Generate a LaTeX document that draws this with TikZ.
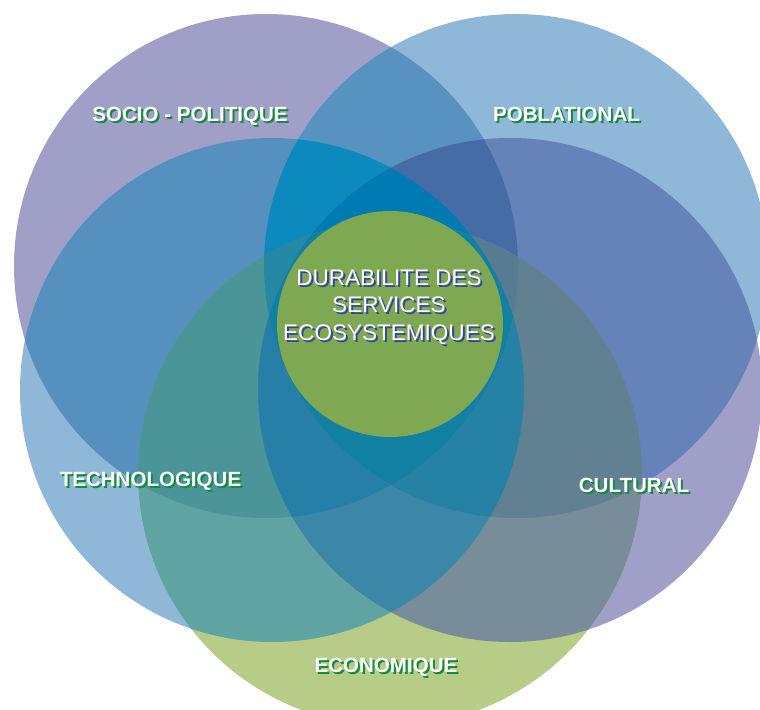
\documentclass[tikz,border=0pt]{standalone}
\usepackage{fontspec}
\setmainfont{Liberation Sans}
\definecolor{cS}{HTML}{A09FC8}
\definecolor{cP}{HTML}{8FB8D8}
\definecolor{cT}{HTML}{8FB8D8}
\definecolor{cC}{HTML}{A09FC8}
\definecolor{cE}{HTML}{B7CC86}
\definecolor{cSP}{HTML}{5792C0}
\definecolor{cST}{HTML}{5690BF}
\definecolor{cPC}{HTML}{6583B8}
\definecolor{cTE}{HTML}{5FA3A3}
\definecolor{cCE}{HTML}{788C99}
\definecolor{cSPT}{HTML}{0C8ABD}
\definecolor{cSPC}{HTML}{466CA8}
\definecolor{cSTE}{HTML}{4B9599}
\definecolor{cPCE}{HTML}{618092}
\definecolor{cTCE}{HTML}{3A87A8}
\definecolor{cSPTC}{HTML}{007AB2}
\definecolor{cSTCE}{HTML}{267FA6}
\definecolor{cPTCE}{HTML}{2682A5}
\definecolor{cSPTE}{HTML}{2589A5}
\definecolor{cSPCE}{HTML}{587B94}
\definecolor{cAll}{HTML}{1180A3}
\definecolor{cG}{HTML}{7EA852}
\definecolor{shG}{HTML}{148C3C}
\definecolor{shB}{HTML}{3246A0}
\begin{document}
\begin{tikzpicture}[x=0.75pt,y=-0.75pt,
  lbl/.style={inner sep=0pt,anchor=base,text=white,font=\bfseries\fontsize{15.4pt}{18pt}\selectfont},
  lblsh/.style={lbl,text=shG},
  ctr/.style={inner sep=0pt,anchor=base,text=white,font=\fontsize{16.9pt}{20pt}\selectfont},
  ctrsh/.style={ctr,text=shB}]
\def\R{189pt}
\useasboundingbox (0,0) rectangle (760,710);
\clip (0,0) rectangle (760,710);
\coordinate (oS) at (266,266);
\coordinate (oP) at (516,266);
\coordinate (oT) at (272,390);
\coordinate (oC) at (510,390);
\coordinate (oE) at (390,474);
\coordinate (oG) at (390,324);
% single circles
\fill[cS] (oS) circle[radius=\R];
\fill[cP] (oP) circle[radius=\R];
\fill[cT] (oT) circle[radius=\R];
\fill[cC] (oC) circle[radius=\R];
\fill[cE] (oE) circle[radius=\R];
% pairs
\begin{scope}\clip (oS) circle[radius=\R]; \fill[cSP] (oP) circle[radius=\R];\end{scope}
\begin{scope}\clip (oS) circle[radius=\R]; \fill[cST] (oT) circle[radius=\R];\end{scope}
\begin{scope}\clip (oP) circle[radius=\R]; \fill[cPC] (oC) circle[radius=\R];\end{scope}
\begin{scope}\clip (oT) circle[radius=\R]; \fill[cTE] (oE) circle[radius=\R];\end{scope}
\begin{scope}\clip (oC) circle[radius=\R]; \fill[cCE] (oE) circle[radius=\R];\end{scope}
% triples
\begin{scope}\clip (oS) circle[radius=\R]; \clip (oP) circle[radius=\R]; \fill[cSPT] (oT) circle[radius=\R];\end{scope}
\begin{scope}\clip (oS) circle[radius=\R]; \clip (oP) circle[radius=\R]; \fill[cSPC] (oC) circle[radius=\R];\end{scope}
\begin{scope}\clip (oS) circle[radius=\R]; \clip (oT) circle[radius=\R]; \fill[cSTE] (oE) circle[radius=\R];\end{scope}
\begin{scope}\clip (oP) circle[radius=\R]; \clip (oC) circle[radius=\R]; \fill[cPCE] (oE) circle[radius=\R];\end{scope}
\begin{scope}\clip (oT) circle[radius=\R]; \clip (oC) circle[radius=\R]; \fill[cTCE] (oE) circle[radius=\R];\end{scope}
% quadruples
\begin{scope}\clip (oS) circle[radius=\R]; \clip (oP) circle[radius=\R]; \clip (oT) circle[radius=\R]; \fill[cSPTC] (oC) circle[radius=\R];\end{scope}
\begin{scope}\clip (oS) circle[radius=\R]; \clip (oT) circle[radius=\R]; \clip (oC) circle[radius=\R]; \fill[cSTCE] (oE) circle[radius=\R];\end{scope}
\begin{scope}\clip (oP) circle[radius=\R]; \clip (oT) circle[radius=\R]; \clip (oC) circle[radius=\R]; \fill[cPTCE] (oE) circle[radius=\R];\end{scope}
\begin{scope}\clip (oS) circle[radius=\R]; \clip (oP) circle[radius=\R]; \clip (oT) circle[radius=\R]; \fill[cSPTE] (oE) circle[radius=\R];\end{scope}
\begin{scope}\clip (oS) circle[radius=\R]; \clip (oP) circle[radius=\R]; \clip (oC) circle[radius=\R]; \fill[cSPCE] (oE) circle[radius=\R];\end{scope}
% all five
\begin{scope}\clip (oS) circle[radius=\R]; \clip (oP) circle[radius=\R]; \clip (oT) circle[radius=\R]; \clip (oC) circle[radius=\R]; \fill[cAll] (oE) circle[radius=\R];\end{scope}
% central circle
\fill[cG] (oG) circle[radius=84.75pt];
% labels
\node[lblsh] (socioSh) at (192,123) {SOCIO - POLITIQUE};
\node[lbl]   (socio)   at (190,121.5) {SOCIO - POLITIQUE};
\node[lblsh] (poblSh) at (568.5,123) {POBLATIONAL};
\node[lbl]   (pobl)   at (566.5,121.5) {POBLATIONAL};
\node[lblsh] (techSh) at (152.5,488) {TECHNOLOGIQUE};
\node[lbl]   (tech)   at (150.5,486.5) {TECHNOLOGIQUE};
\node[lblsh] (cultSh) at (636,494) {CULTURAL};
\node[lbl]   (cult)   at (634,492.5) {CULTURAL};
\node[lblsh] (ecoSh) at (388,674) {ECONOMIQUE};
\node[lbl]   (eco)   at (386,672.5) {ECONOMIQUE};
% centre text
\node[ctrsh] (l1Sh) at (391,287.5) {DURABILITE DES};
\node[ctr]   (l1)   at (389,285.5) {DURABILITE DES};
\node[ctrsh] (l2Sh) at (391,314.5) {SERVICES};
\node[ctr]   (l2)   at (389,312.5) {SERVICES};
\node[ctrsh] (l3Sh) at (391,342) {ECOSYSTEMIQUES};
\node[ctr]   (l3)   at (389,340) {ECOSYSTEMIQUES};
\end{tikzpicture}
\end{document}
